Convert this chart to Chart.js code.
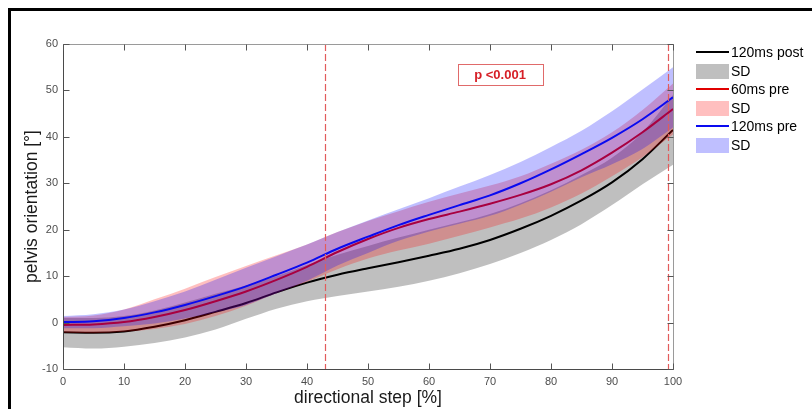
<!DOCTYPE html>
<html>
<head>
<meta charset="utf-8">
<script src="https://cdn.jsdelivr.net/npm/chart.js@4.4.1/dist/chart.umd.min.js"></script>
<style>
  html,body{margin:0;padding:0;background:#fff;}
  #wrap{position:relative;width:812px;height:409px;overflow:hidden;font-family:"Liberation Sans",Arial,sans-serif;}
  #frame{position:absolute;left:8px;top:8px;width:900px;height:500px;border-left:3px solid #000;border-top:3px solid #000;}
  #leg{position:absolute;left:696px;top:43px;}
  .row{display:flex;align-items:center;height:18.5px;font-size:14px;color:#000;}
  .smp{width:33px;height:18px;position:relative;margin-right:2px;}
  .ln{position:absolute;left:0;right:0;top:8px;height:2px;}
  .pt{position:absolute;left:0;right:0;top:2px;height:15px;}
</style>
</head>
<body>
<div id="wrap">
  <canvas id="c" width="812" height="409"></canvas>
  <div id="frame"></div>
  <div id="leg"></div>
</div>
<script>
// directional step [%]
const steps=[0,5,10,15,20,25,30,35,40,45,50,55,60,65,70,75,80,85,90,95,100];
// 120ms post
const postMean=[-2.1,-2.2,-1.9,-0.9,0.5,2.3,4.2,6.5,8.6,10.3,11.7,13.0,14.4,15.9,17.8,20.2,23.0,26.3,30.2,35.2,41.5];
const postUp  =[1.0,1.0,1.4,2.6,4.3,6.2,8.0,10.0,12.4,14.6,16.5,18.3,20.0,21.6,23.4,25.7,28.5,31.8,35.5,41.0,49.0];
const postLo  =[-5.3,-5.6,-5.2,-4.4,-3.2,-1.5,0.8,3.0,4.6,5.7,6.7,7.7,9.0,10.6,12.6,15.0,17.8,21.2,25.3,29.8,34.0];
// 60ms pre
const pre60Mean=[-0.5,-0.4,0.1,1.2,2.7,4.6,6.7,9.2,12.0,15.2,18.0,20.4,22.3,23.9,25.6,27.5,29.8,32.8,36.6,41.0,46.0];
const pre60Up  =[1.2,1.5,2.8,5.0,7.3,9.8,12.2,14.5,16.8,19.5,21.9,24.0,26.0,27.8,29.5,31.5,34.2,37.2,41.0,45.8,51.5];
const pre60Lo  =[-2.2,-2.3,-2.0,-1.4,-0.3,1.4,3.6,6.3,8.8,11.5,13.8,15.5,17.0,18.7,20.5,22.4,24.8,27.8,31.5,35.6,40.5];
// 120ms pre
const pre120Mean=[0.1,0.3,1.0,2.2,3.8,5.7,7.8,10.3,12.9,15.9,18.5,21.0,23.2,25.3,27.4,30.0,33.0,36.3,39.8,43.8,48.5];
const pre120Up  =[1.4,1.8,2.8,4.6,6.7,9.2,11.8,14.3,16.8,19.5,22.0,24.4,26.8,29.3,31.8,34.6,37.8,41.3,45.5,50.2,55.0];
const pre120Lo  =[-1.2,-1.2,-0.8,-0.2,0.9,2.2,3.8,6.3,9.0,12.3,15.0,17.6,19.6,21.3,23.0,25.4,28.2,31.3,34.1,37.4,42.0];
// significance window borders [%]
const sigLines=[43,99.2];
const pText='p <0.001';
const xTicks=[0,10,20,30,40,50,60,70,80,90,100];
const yTicks=[-10,0,10,20,30,40,50,60];
const legendItems=[
  {label:'120ms post',type:'line',color:'#000000'},
  {label:'SD',type:'patch',color:'#bfbfbf'},
  {label:'60ms pre',type:'line',color:'#e00000'},
  {label:'SD',type:'patch',color:'#ffbfbf'},
  {label:'120ms pre',type:'line',color:'#0a0af0'},
  {label:'SD',type:'patch',color:'#bfbfff'},
];

const pts=arr=>arr.map((v,i)=>({x:steps[i],y:v}));
const lineDs=(data,color,order)=>({data:pts(data),borderColor:color,borderWidth:2,pointRadius:0,fill:false,order,cubicInterpolationMode:'monotone'});
const bandDs=(data,fillColor,order,isUpper)=>({data:pts(data),borderWidth:0,borderColor:'rgba(0,0,0,0)',pointRadius:0,backgroundColor:fillColor,fill:isUpper?'+1':false,order,cubicInterpolationMode:'monotone'});

document.getElementById('leg').innerHTML=legendItems.map(it=>`
  <div class="row"><div class="smp">${it.type==='line'
    ?`<div class="ln" style="background:${it.color}"></div>`
    :`<div class="pt" style="background:${it.color}"></div>`}</div><span>${it.label}</span></div>`).join('');

const decor={
  id:'decor',
  afterDatasetsDraw(chart){
    const {ctx,chartArea:a,scales:{x,y}}=chart;
    ctx.save();
    // dashed significance borders
    ctx.strokeStyle='#e25c5c';ctx.lineWidth=1.2;ctx.setLineDash([7,3]);
    sigLines.forEach(v=>{
      const px=Math.round(x.getPixelForValue(v))+0.5;
      ctx.beginPath();ctx.moveTo(px,a.top);ctx.lineTo(px,a.bottom);ctx.stroke();
    });
    ctx.setLineDash([]);
    // axes box
    const L=Math.round(a.left)+0.5,R=Math.round(a.right)+0.5,T=Math.round(a.top)+0.5,B=Math.round(a.bottom)+0.5;
    ctx.lineWidth=1;
    ctx.strokeStyle='#9a9a9a';
    ctx.beginPath();ctx.moveTo(L,T);ctx.lineTo(R,T);ctx.lineTo(R,B);ctx.stroke();
    ctx.strokeStyle='#4a4a4a';
    ctx.beginPath();ctx.moveTo(L,T);ctx.lineTo(L,B);ctx.lineTo(R,B);ctx.stroke();
    // inward ticks
    ctx.strokeStyle='#555';
    xTicks.forEach(v=>{
      const px=Math.round(x.getPixelForValue(v))+0.5;
      ctx.beginPath();ctx.moveTo(px,B);ctx.lineTo(px,B-6);ctx.moveTo(px,T);ctx.lineTo(px,T+6);ctx.stroke();
    });
    yTicks.forEach(v=>{
      const py=Math.round(y.getPixelForValue(v))+0.5;
      ctx.beginPath();ctx.moveTo(L,py);ctx.lineTo(L+6,py);ctx.moveTo(R,py);ctx.lineTo(R-6,py);ctx.stroke();
    });
    // p-value box
    const bx0=x.getPixelForValue(64.7),bx1=x.getPixelForValue(78.6);
    const by0=y.getPixelForValue(55.7),by1=y.getPixelForValue(51.2);
    ctx.strokeStyle='#e06a6a';ctx.lineWidth=1;
    ctx.strokeRect(Math.round(bx0)+0.5,Math.round(by0)+0.5,Math.round(bx1-bx0),Math.round(by1-by0));
    ctx.fillStyle='#d61f26';ctx.font='bold 13px "Liberation Sans", Arial, sans-serif';
    ctx.textAlign='center';ctx.textBaseline='middle';
    ctx.fillText(pText,(bx0+bx1)/2,(by0+by1)/2+1);
    ctx.restore();
  }
};

new Chart(document.getElementById('c'),{
  type:'line',
  data:{datasets:[
    lineDs(pre120Mean,'#0a0af0',0),
    bandDs(pre120Up,'rgba(0,0,255,0.25)',1,true),
    bandDs(pre120Lo,'rgba(0,0,255,0.25)',1,false),
    lineDs(pre60Mean,'#e00000',2),
    bandDs(pre60Up,'rgba(255,0,0,0.25)',3,true),
    bandDs(pre60Lo,'rgba(255,0,0,0.25)',3,false),
    lineDs(postMean,'#000000',4),
    bandDs(postUp,'rgba(128,128,128,0.5)',5,true),
    bandDs(postLo,'rgba(128,128,128,0.5)',5,false),
  ]},
  options:{
    responsive:false,animation:false,
    layout:{padding:{left:22,top:44,right:139,bottom:0}},
    plugins:{legend:{display:false},tooltip:{enabled:false}},
    scales:{
      x:{type:'linear',min:0,max:100,
        ticks:{stepSize:10,color:'#4d4d4d',font:{size:11,family:'"Liberation Sans", Arial, sans-serif'},padding:6,maxRotation:0},
        grid:{display:false,drawTicks:false},border:{display:false},
        title:{display:true,text:'directional step [%]',color:'#1a1a1a',font:{size:17.5,family:'"Liberation Sans", Arial, sans-serif'},padding:0},
        afterFit:s=>{s.height=40;}},
      y:{min:-10,max:60,
        ticks:{stepSize:10,color:'#4d4d4d',font:{size:11,family:'"Liberation Sans", Arial, sans-serif'},padding:5},
        grid:{display:false,drawTicks:false},border:{display:false},
        title:{display:true,text:'pelvis orientation [°]',color:'#1a1a1a',font:{size:17.5,family:'"Liberation Sans", Arial, sans-serif'},padding:0},
        afterFit:s=>{s.width=41;}}
    }
  },
  plugins:[decor]
});
</script>
</body>
</html>
